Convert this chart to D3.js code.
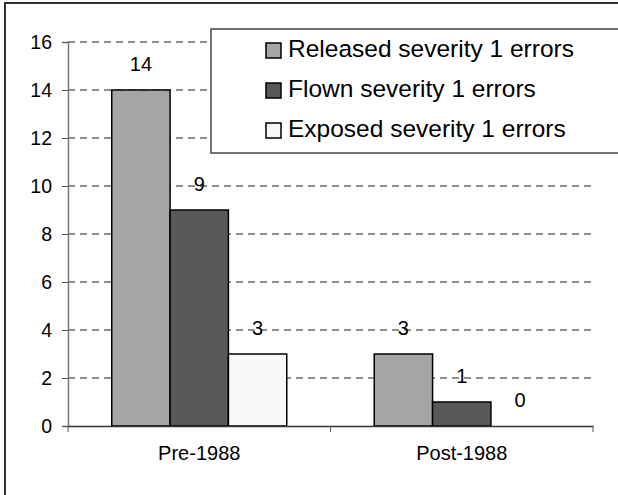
<!DOCTYPE html>
<html>
<head>
<meta charset="utf-8">
<script src="https://cdn.jsdelivr.net/npm/d3@7"></script>
<style>
  body { margin: 0; background: #fff; }
  text { font-family: "Liberation Sans", Arial, sans-serif; fill: #000; }
</style>
</head>
<body>
<div id="chart"></div>
<script>
 //data
 var categories = ["Pre-1988", "Post-1988"];
 var seriesNames = ["Released severity 1 errors", "Flown severity 1 errors", "Exposed severity 1 errors"];
 var released = [14, 3];
 var flown = [9, 1];
 var exposed = [3, 0];
 var yTicks = [0, 2, 4, 6, 8, 10, 12, 14, 16];
 var seriesColors = ["#a5a5a5", "#595959", "#f8f8f8"];

 var seriesValues = [released, flown, exposed];

 //size of page
 var W = 618, H = 495;

 //plot area
 var margin = { left: 68, right: 25, top: 42, bottom: 69 };
 var width = W - margin.left - margin.right,
     height = H - margin.top - margin.bottom;

 var svg = d3.select("#chart")
     .append("svg")
     .attr("width", W)
     .attr("height", H);

 //outer frame
 svg.append("rect")
     .attr("x", 5)
     .attr("y", 3)
     .attr("width", W + 20)
     .attr("height", H + 20)
     .attr("fill", "#fff")
     .attr("stroke", "#333")
     .attr("stroke-width", 2);

 var chartGroup = svg.append("g")
     .attr("transform", "translate(" + margin.left + "," + margin.top + ")");

 //scales
 var xScale = d3.scaleBand()
     .domain(categories)
     .range([0, width]);

 var xInner = d3.scaleBand()
     .domain(d3.range(seriesNames.length))
     .range([0, xScale.bandwidth()])
     .paddingInner(0)
     .paddingOuter(0.75);

 var yScale = d3.scaleLinear()
     .domain([0, 16])
     .range([height, 0]);

 //dashed gridlines
 chartGroup.selectAll(".grid")
     .data(yTicks.filter(function (d) { return d > 0; }))
     .enter()
     .append("line")
     .attr("class", "grid")
     .attr("x1", 0)
     .attr("x2", width)
     .attr("y1", function (d) { return yScale(d); })
     .attr("y2", function (d) { return yScale(d); })
     .attr("stroke", "#222")
     .attr("stroke-width", 1)
     .attr("stroke-dasharray", "7,5");

 //y axis
 var yAxis = d3.axisLeft(yScale)
     .tickValues(yTicks)
     .tickSize(6)
     .tickPadding(10);

 var gy = chartGroup.append("g")
     .attr("class", "axis_y")
     .call(yAxis);
 gy.select(".domain").attr("stroke", "#777").attr("stroke-width", 1.5);
 gy.selectAll(".tick line").attr("stroke", "#555");
 gy.selectAll("text")
     .attr("font-size", "19.5px")
     .attr("fill", "#000")
     .style("font-family", "'Liberation Sans', Arial, sans-serif");

 //bars, one group per category
 var groups = chartGroup.selectAll(".cat")
     .data(categories)
     .enter()
     .append("g")
     .attr("class", "cat")
     .attr("transform", function (d) { return "translate(" + xScale(d) + ",0)"; });

 groups.selectAll("rect")
     .data(function (d, ci) {
         return seriesValues.map(function (vals, si) { return { s: si, v: vals[ci] }; });
     })
     .enter()
     .append("rect")
     .attr("x", function (d) { return xInner(d.s); })
     .attr("y", function (d) { return yScale(d.v); })
     .attr("width", xInner.bandwidth())
     .attr("height", function (d) { return height - yScale(d.v); })
     .attr("fill", function (d) { return seriesColors[d.s]; })
     .attr("stroke", "#000")
     .attr("stroke-width", function (d) { return d.v > 0 ? 1.5 : 0; });

 //value labels above bars
 groups.selectAll(".labels")
     .data(function (d, ci) {
         return seriesValues.map(function (vals, si) { return { s: si, v: vals[ci] }; });
     })
     .enter()
     .append("text")
     .attr("class", "labels")
     .attr("font-size", "20px")
     .attr("text-anchor", "middle")
     .attr("x", function (d) { return xInner(d.s) + xInner.bandwidth() / 2; })
     .attr("y", function (d) { return yScale(d.v) - 19; })
     .text(function (d) { return d.v; });

 //x axis
 var xAxis = d3.axisBottom(xScale).tickSize(0).tickPadding(20);
 var gx = chartGroup.append("g")
     .attr("class", "axis_x")
     .attr("transform", "translate(0," + height + ")")
     .call(xAxis);
 gx.select(".domain").attr("stroke", "#333").attr("stroke-width", 1.5);
 gx.selectAll("text")
     .attr("font-size", "20px")
     .attr("fill", "#000")
     .attr("dy", "0.71em")
     .style("font-family", "'Liberation Sans', Arial, sans-serif");

 //tick marks between categories
 gx.selectAll(".sep")
     .data([0].concat(categories.map(function (d) { return xScale(d) + xScale.bandwidth(); })))
     .enter()
     .append("line")
     .attr("class", "sep")
     .attr("x1", function (d) { return d; })
     .attr("x2", function (d) { return d; })
     .attr("y1", 0)
     .attr("y2", 6)
     .attr("stroke", "#555");

 //legend
 var legend = svg.append("g")
     .attr("transform", "translate(211,29)");

 legend.append("rect")
     .attr("x", 0)
     .attr("y", 0)
     .attr("width", 430)
     .attr("height", 124)
     .attr("fill", "#fff")
     .attr("stroke", "#444")
     .attr("stroke-width", 1.5);

 var items = legend.selectAll(".item")
     .data(seriesNames)
     .enter()
     .append("g")
     .attr("class", "item")
     .attr("transform", function (d, i) { return "translate(55," + (14 + i * 40) + ")"; });

 items.append("rect")
     .attr("width", 15)
     .attr("height", 15)
     .attr("fill", function (d, i) { return seriesColors[i]; })
     .attr("stroke", "#000")
     .attr("stroke-width", 1.5);

 items.append("text")
     .attr("x", 22)
     .attr("y", 14)
     .attr("font-size", "24.5px")
     .text(function (d) { return d; });
</script>
</body>
</html>
